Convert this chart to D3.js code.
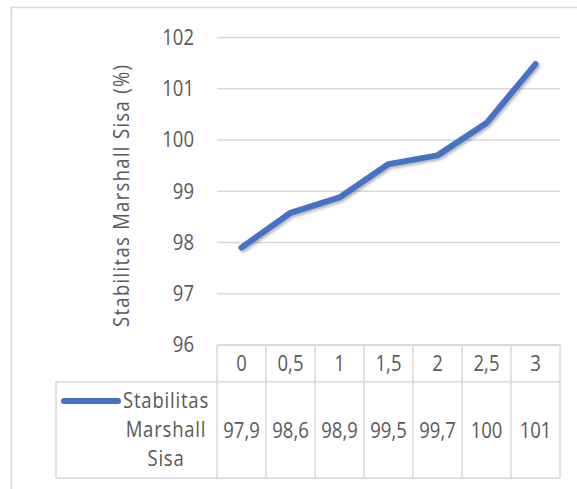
<!DOCTYPE html>
<html>
<head>
<meta charset="utf-8">
<script src="https://cdn.jsdelivr.net/npm/d3@7"></script>
<style>
  body { margin: 0; background: #fff; }
  svg text { font-family: "Open Sans", "Liberation Sans", sans-serif; fill: #595959; }
</style>
</head>
<body>
<svg width="577" height="489"></svg>
<script>
// data
const categories = ["0", "0,5", "1", "1,5", "2", "2,5", "3"];
const values = [97.9, 98.58, 98.88, 99.53, 99.7, 100.33, 101.48];
const tableLabels = ["97,9", "98,6", "98,9", "99,5", "99,7", "100", "101"];
const yTicks = [96, 97, 98, 99, 100, 101, 102];
const seriesName = ["Stabilitas", "Marshall", "Sisa"];
const yTitle = "Stabilitas Marshall Sisa (%)";

let svg = d3.select("svg"),
    width = +svg.attr("width"),
    height = +svg.attr("height");

const grid = "#d9d9d9",
      blue = "#4472C4",
      stretch = 1.15; // the source font is taller than it is wide

// chart border (runs off right and bottom of the picture)
svg.append("rect")
    .attr("x", 11.5).attr("y", 7.5)
    .attr("width", 640).attr("height", 560)
    .attr("fill", "#fff")
    .attr("stroke", grid)
    .attr("stroke-width", 1.5);

let x = d3.scaleBand().domain(categories).range([217, 560]);
let y = d3.scaleLinear().domain([96, 102]).range([345, 37.5]);

// gridlines
svg.append("g")
    .attr("class", "grid")
    .selectAll("line")
    .data(yTicks)
    .enter().append("line")
    .attr("x1", x.range()[0]).attr("x2", x.range()[1])
    .attr("y1", d => y(d)).attr("y2", d => y(d))
    .attr("stroke", grid)
    .attr("stroke-width", 1.5);

// y axis labels
let yAxis = svg.append("g")
    .attr("transform", `translate(${x.range()[0]},0)`)
    .call(d3.axisLeft(y).tickValues(yTicks).tickFormat(d3.format("d")).tickSize(0).tickPadding(23));
yAxis.select(".domain").remove();
yAxis.selectAll("text")
    .attr("fill", "#595959")
    .attr("transform", `scale(1,${stretch})`)
    .style("font-size", "18.5px")
    .style("font-family", "\"Open Sans\", sans-serif");

// y title
svg.append("text")
    .attr("transform", `translate(122,196) rotate(-90) scale(1,${stretch})`)
    .attr("text-anchor", "middle")
    .attr("dy", "0.35em")
    .attr("textLength", 262)
    .attr("lengthAdjust", "spacing")
    .style("font-size", "18.5px")
    .text(yTitle);

// line with soft shadow
let defs = svg.append("defs");
defs.append("filter")
    .attr("id", "shadow")
    .attr("x", "-10%").attr("y", "-10%")
    .attr("width", "130%").attr("height", "130%")
    .append("feDropShadow")
    .attr("dx", 1.5).attr("dy", 2)
    .attr("stdDeviation", 1.5)
    .attr("flood-color", "#000")
    .attr("flood-opacity", 0.3);

let line = d3.line()
    .x((d, i) => x(categories[i]) + x.bandwidth() / 2)
    .y(d => y(d));

svg.append("path")
    .datum(values)
    .attr("d", line)
    .attr("fill", "none")
    .attr("stroke", blue)
    .attr("stroke-width", 6)
    .attr("stroke-linecap", "round")
    .attr("stroke-linejoin", "round")
    .attr("filter", "url(#shadow)");

// data table
let rowTop = y(96), rowMid = 381.7, rowBot = 478.3, tableLeft = 56;
let table = svg.append("g").attr("class", "table")
    .attr("stroke", grid).attr("stroke-width", 1.5);

table.append("line")
    .attr("x1", x.range()[0]).attr("x2", x.range()[1])
    .attr("y1", rowTop).attr("y2", rowTop);
table.append("line")
    .attr("x1", tableLeft).attr("x2", x.range()[1])
    .attr("y1", rowMid).attr("y2", rowMid);
table.append("line")
    .attr("x1", tableLeft).attr("x2", x.range()[1])
    .attr("y1", rowBot).attr("y2", rowBot);
table.append("line")
    .attr("x1", tableLeft).attr("x2", tableLeft)
    .attr("y1", rowMid).attr("y2", rowBot);

let bounds = categories.map(c => x(c)).concat([x.range()[1]]);
table.selectAll("line.col")
    .data(bounds)
    .enter().append("line")
    .attr("class", "col")
    .attr("x1", d => d).attr("x2", d => d)
    .attr("y1", rowTop).attr("y2", rowBot);

// text placed with a vertical stretch
function putText(g, data, fx, fy, spacing) {
    return g.selectAll("text")
        .data(data)
        .enter().append("text")
        .attr("transform", (d, i) => `translate(${fx(d, i)},${fy(d, i)}) scale(1,${stretch})`)
        .attr("dy", "0.35em")
        .attr("text-anchor", "middle")
        .style("font-size", "18.5px")
        .style("letter-spacing", spacing || null)
        .text(d => d);
}

// header labels
putText(svg.append("g"), categories,
    d => x(d) + x.bandwidth() / 2,
    () => 363.5);

// value labels
putText(svg.append("g"), tableLabels,
    (d, i) => x(categories[i]) + x.bandwidth() / 2,
    () => 431);

// legend key + series name
svg.append("line")
    .attr("x1", 64).attr("x2", 118)
    .attr("y1", 401).attr("y2", 401)
    .attr("stroke", blue)
    .attr("stroke-width", 6)
    .attr("stroke-linecap", "round");

putText(svg.append("g"), seriesName,
    () => 166,
    (d, i) => 401 + i * 28.6,
    "0.8px");
</script>
</body>
</html>
